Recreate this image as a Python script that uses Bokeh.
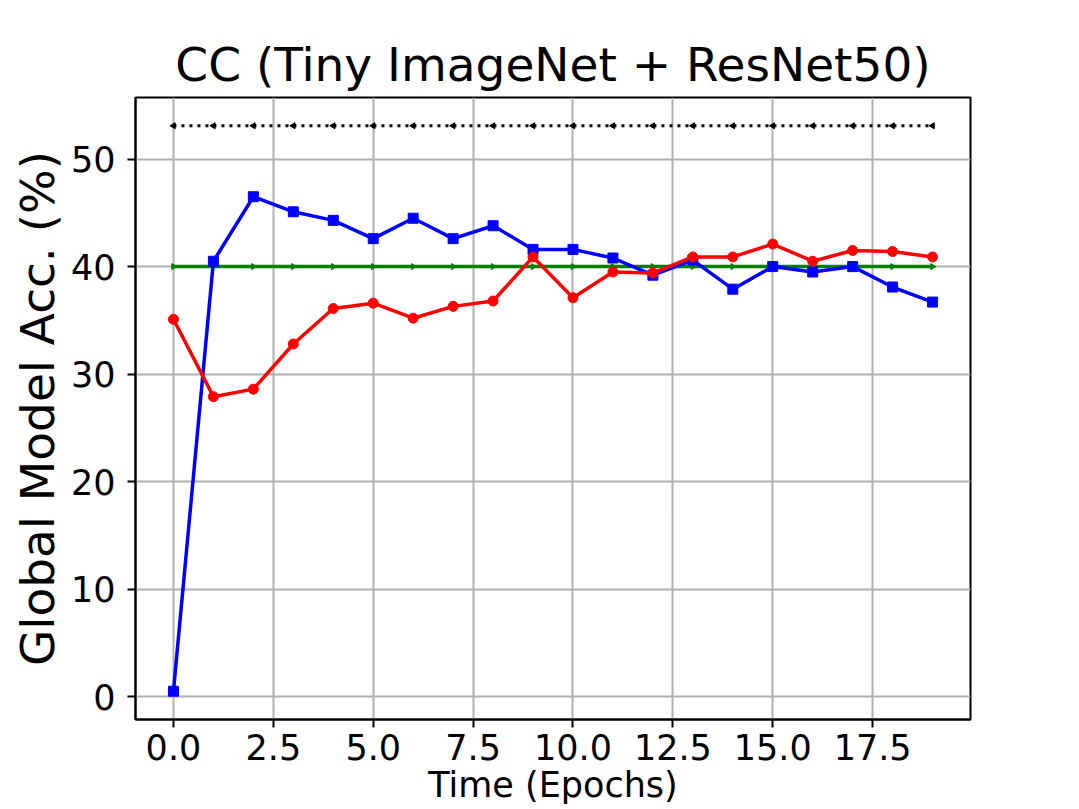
import math
from bokeh.plotting import figure
from bokeh.models import Range1d, FixedTicker, NumeralTickFormatter
from bokeh.embed import file_html
from bokeh.resources import INLINE

# ---- data ----
epochs = [0, 1, 2, 3, 4, 5, 6, 7, 8, 9, 10, 11, 12, 13, 14, 15, 16, 17, 18, 19]
blue_acc = [0.5, 40.5, 46.5, 45.1, 44.3, 42.6, 44.5, 42.6, 43.8, 41.6,
            41.6, 40.8, 39.2, 40.6, 37.9, 40.0, 39.5, 40.0, 38.1, 36.7]
red_acc = [35.1, 27.9, 28.6, 32.8, 36.1, 36.6, 35.2, 36.3, 36.8, 40.9,
           37.1, 39.5, 39.4, 40.9, 40.9, 42.1, 40.5, 41.5, 41.4, 40.9]
green_acc = [40.0, 40.0, 40.0, 40.0, 40.0, 40.0, 40.0, 40.0, 40.0, 40.0,
             40.0, 40.0, 40.0, 40.0, 40.0, 40.0, 40.0, 40.0, 40.0, 40.0]
black_acc = [53.1, 53.1, 53.1, 53.1, 53.1, 53.1, 53.1, 53.1, 53.1, 53.1,
             53.1, 53.1, 53.1, 53.1, 53.1, 53.1, 53.1, 53.1, 53.1, 53.1]
x_ticks = [0.0, 2.5, 5.0, 7.5, 10.0, 12.5, 15.0, 17.5]
y_ticks = [0, 10, 20, 30, 40, 50]
title_text = "CC (Tiny ImageNet + ResNet50)"
x_label = "Time (Epochs)"
y_label = "Global Model Acc. (%)"

FONT = "DejaVu Sans"

p = figure(frame_width=835, frame_height=622,
           output_backend="svg", toolbar_location=None,
           x_range=Range1d(-0.95, 19.95), y_range=Range1d(-2.13, 55.73),
           min_border_left=135, min_border_right=101,
           min_border_top=97, min_border_bottom=90,
           title=title_text)

p.background_fill_color = "white"
p.border_fill_color = "white"
p.outline_line_color = "black"
p.outline_line_width = 2
p.outline_line_alpha = 1.0

p.title.align = "center"
p.title.text_font = FONT
p.title.text_font_size = "47px"
p.title.text_font_style = "normal"
p.title.text_color = "black"
p.title.standoff = 12

for ax in (p.xaxis[0], p.yaxis[0]):
    ax.axis_line_color = "black"
    ax.axis_line_width = 2
    ax.major_tick_line_color = "black"
    ax.major_tick_line_width = 2
    ax.major_tick_out = 8
    ax.major_tick_in = 0
    ax.minor_tick_line_color = None
    ax.major_label_text_font = FONT
    ax.major_label_text_font_size = "35px"
    ax.major_label_text_color = "black"
    ax.axis_label_text_font = FONT
    ax.axis_label_text_font_style = "normal"
    ax.axis_label_text_color = "black"

p.xaxis.ticker = FixedTicker(ticks=x_ticks)
p.yaxis.ticker = FixedTicker(ticks=y_ticks)
p.xaxis.formatter = NumeralTickFormatter(format="0.0")
p.yaxis.formatter = NumeralTickFormatter(format="0")
p.xaxis.major_label_standoff = 6
p.yaxis.major_label_standoff = 12
p.xaxis.axis_label = x_label
p.xaxis.axis_label_text_font_size = "35px"
p.xaxis.axis_label_standoff = 2
p.yaxis.axis_label = y_label
p.yaxis.axis_label_text_font_size = "47px"
p.yaxis.axis_label_standoff = 3

p.xgrid.grid_line_color = "#b0b0b0"
p.ygrid.grid_line_color = "#b0b0b0"
p.xgrid.grid_line_width = 2
p.ygrid.grid_line_width = 2

# green line with right-pointing triangles
p.line(epochs, green_acc, line_color="#008000", line_width=3.5)
p.scatter(epochs, green_acc, marker="triangle", size=6, angle=-math.pi / 2,
          fill_color="#008000", line_color="#008000")

# black dotted line with left-pointing triangles
p.line(epochs, black_acc, line_color="black", line_width=3, line_dash="3 5")
p.scatter(epochs, black_acc, marker="triangle", size=6, angle=math.pi / 2,
          fill_color="black", line_color="black")

# blue squares
p.line(epochs, blue_acc, line_color="#0000ff", line_width=3.5)
p.scatter(epochs, blue_acc, marker="square", size=10,
          fill_color="#0000ff", line_color="#0000ff")

# red circles
p.line(epochs, red_acc, line_color="#ff0000", line_width=3.5)
p.scatter(epochs, red_acc, marker="circle", size=10,
          fill_color="#ff0000", line_color="#ff0000")

open("out.html", "w").write(file_html(p, INLINE))
